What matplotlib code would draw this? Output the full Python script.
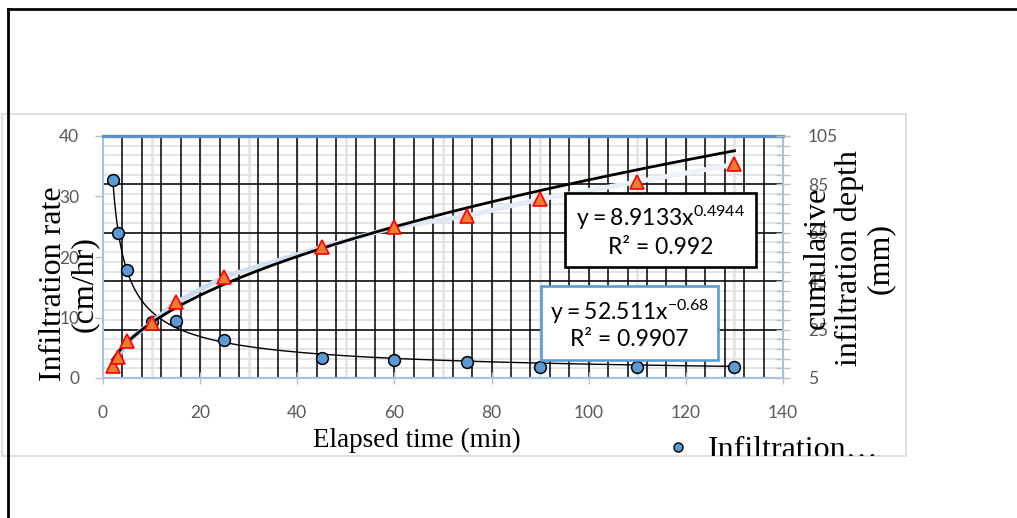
import numpy as np
import matplotlib
matplotlib.use('Agg')
import matplotlib.pyplot as plt
from matplotlib.transforms import blended_transform_factory, Bbox, TransformedBbox
from matplotlib.collections import LineCollection
from matplotlib.patches import Rectangle
from matplotlib.lines import Line2D
from matplotlib.ticker import MultipleLocator
import matplotlib.colors as mcolors

# ---------------- data ----------------
elapsed_time = [2, 3, 5, 10, 15, 25, 45, 60, 75, 90, 110, 130]
infiltration_rate = [32.8, 23.9, 17.9, 9.3, 9.5, 6.3, 3.3, 3.0, 2.7, 1.9, 1.9, 1.9]
cumulative_depth = [9.8, 13.5, 20.1, 27.9, 36.2, 46.9, 59.0, 67.3, 72.0, 78.9, 86.1, 93.3]

# power-law trendlines as printed on the chart
rate_fit_a, rate_fit_b, rate_fit_r2 = 52.511, -0.68, 0.9907
cum_fit_a, cum_fit_b, cum_fit_r2 = 8.9133, 0.4944, 0.992

x_ticks = [0, 20, 40, 60, 80, 100, 120, 140]
left_ticks = [0, 10, 20, 30, 40]
right_ticks = [5, 25, 45, 65, 85, 105]

x_title = 'Elapsed time (min)'
left_title = 'Infiltration rate\n(cm/hr)'
right_title = 'cumulative\ninfiltration depth\n(mm)'
legend_label = 'Infiltration…'

# ---------------- figure ----------------
W, H = 1017, 518
fig = plt.figure(figsize=(W / 100, H / 100), dpi=100)
fig.patch.set_facecolor('white')


def fx(p):
    return p / W


def fy(p):
    return 1 - p / H


plt.rcParams['mathtext.fontset'] = 'custom'
plt.rcParams['mathtext.rm'] = 'Lato'

ax = fig.add_axes([fx(103), fy(378), fx(783) - fx(103), fy(136) - fy(378)])
ax2 = ax.twinx()
ax2.patch.set_visible(False)

ax.set_xlim(0, 140)
ax.set_ylim(0, 40)
ax2.set_ylim(5, 105)

# grid lines (drawn on the primary axes so markers stay on top)
th = blended_transform_factory(ax.transAxes, ax2.transData)
tv = blended_transform_factory(ax.transData, ax.transAxes)
ax.hlines(np.arange(9, 105, 4), 0, 1, transform=th, colors='#E2E2E2', lw=1.3, zorder=0.5)
ax.vlines(np.arange(10, 140, 10), 0, 1, transform=tv, colors='#E2E2E2', lw=1.8, zorder=0.5)
ax.hlines([25, 45, 65, 85], 0, 1, transform=th, colors='black', lw=1.1, zorder=0.6)
ax.vlines(np.arange(4, 140, 4), 0, 1, transform=tv, colors='black', lw=1.1, zorder=0.6)

# infiltration-rate series and trendline
xs = np.linspace(min(elapsed_time), max(elapsed_time), 300)
ax.plot(xs, rate_fit_a * xs ** rate_fit_b, color='black', lw=1.0, zorder=3)
ax.plot(elapsed_time, infiltration_rate, ls='none', marker='o', ms=8.5,
        mfc='#5B9BD5', mec='black', mew=1.1, zorder=4)

# cumulative-depth series: light-blue smoothed line fading out
pts = np.column_stack([elapsed_time, cumulative_depth])
segs = np.stack([pts[:-1], pts[1:]], axis=1)
c0 = np.array(mcolors.to_rgb('#AFC5E6'))
c1 = np.array(mcolors.to_rgb('#EEF3FA'))
cols = [tuple(c0 + (c1 - c0) * (i / (len(segs) - 1)) ** 0.8) for i in range(len(segs))]
lc = LineCollection(segs, colors=cols, linewidths=3.5, capstyle='round', zorder=2)
ax2.add_collection(lc)
ax2.plot(xs, cum_fit_a * xs ** cum_fit_b, color='black', lw=2.0, zorder=3)
ax2.plot(elapsed_time, cumulative_depth, ls='none', marker='^', ms=9.5,
         mfc='#ED7D31', mec='#FF0000', mew=1.2, zorder=5)

ax.set_xlim(0, 140)
ax.set_ylim(0, 40)
ax2.set_ylim(5, 105)

# spines
for s in ax.spines.values():
    s.set_color('#A6C1E4')
    s.set_linewidth(1.5)
ax.spines['top'].set_color('#5B8FD0')
ax.spines['top'].set_linewidth(2.4)
for s in ax2.spines.values():
    s.set_visible(False)

# ticks
ax.set_xticks(x_ticks)
ax.set_yticks(left_ticks)
ax2.set_yticks(right_ticks)
ax2.yaxis.set_minor_locator(MultipleLocator(4, offset=5))
ax.tick_params(axis='x', direction='inout', length=9, width=1, color='#BFBFBF',
               labelcolor='#595959', pad=15)
ax.tick_params(axis='y', direction='out', length=6, width=1, color='#BFBFBF',
               labelcolor='#595959', pad=11)
ax2.tick_params(axis='y', which='both', direction='inout', length=10, width=1,
                color='#BFBFBF', labelcolor='#595959', pad=13)
for lab in ax.get_xticklabels() + ax.get_yticklabels() + ax2.get_yticklabels():
    lab.set_fontfamily('Lato')
    lab.set_fontsize(12.5)

# trendline equation boxes
fig.add_artist(Rectangle((fx(565), fy(267)), fx(756) - fx(565), fy(193) - fy(267),
                         transform=fig.transFigure, fc='white', ec='black', lw=1.9, zorder=2))
fig.add_artist(Rectangle((fx(541), fy(360)), fx(718) - fx(541), fy(286) - fy(360),
                         transform=fig.transFigure, fc='white', ec='#5B9BD5', lw=1.9, zorder=2))
eq_kw = dict(ha='center', va='center', family='Lato', fontsize=16.5, zorder=3)
fig.text(fx(660.5), fy(218), r'$\mathregular{y = %sx^{%s}}$' % (cum_fit_a, cum_fit_b), **eq_kw)
fig.text(fx(660.5), fy(248), 'R² = %s' % cum_fit_r2, **eq_kw)
fig.text(fx(629.5), fy(312), r'$\mathregular{y = %sx^{%s}}$' % (rate_fit_a, rate_fit_b), **eq_kw)
fig.text(fx(629.5), fy(340), 'R² = %s' % rate_fit_r2, **eq_kw)

# axis titles
serif = 'Liberation Serif'
fig.text(fx(69), fy(284), left_title, rotation=90, ha='center', va='center',
         family=serif, fontsize=23, linespacing=1.12, multialignment='center', zorder=4)
fig.text(fx(849), fy(258), right_title, rotation=90, ha='center', va='center',
         family=serif, fontsize=23, linespacing=1.1, multialignment='center', zorder=4)
fig.text(fx(416.5), fy(447), x_title, ha='center', va='baseline',
         family=serif, fontsize=19.5, zorder=4)

# chart frame and outer border
frame = Bbox([[fx(2), fy(456)], [fx(906), fy(114)]])
fig.add_artist(Rectangle((fx(2), fy(456)), fx(906) - fx(2), fy(114) - fy(456),
                         transform=fig.transFigure, fill=False, ec='#D9D9D9', lw=1.2, zorder=1))
fig.add_artist(Line2D([fx(8), fx(8)], [fy(9), 0], transform=fig.transFigure,
                      color='black', lw=2.0, zorder=5))
fig.add_artist(Line2D([fx(8), 1], [fy(9), fy(9)], transform=fig.transFigure,
                      color='black', lw=2.0, zorder=5))

# legend (cut off by the chart frame)
fig.add_artist(Line2D([fx(678)], [fy(447)], transform=fig.transFigure, ls='none',
                      marker='o', ms=6.5, mfc='#5B9BD5', mec='black', mew=1.0, zorder=4))
lt = fig.text(fx(708), fy(458), legend_label, ha='left', va='baseline',
              family=serif, fontsize=23, zorder=4)
lt.set_clip_box(TransformedBbox(frame, fig.transFigure))
lt.set_clip_on(True)

fig.savefig('out.png', dpi=100)
